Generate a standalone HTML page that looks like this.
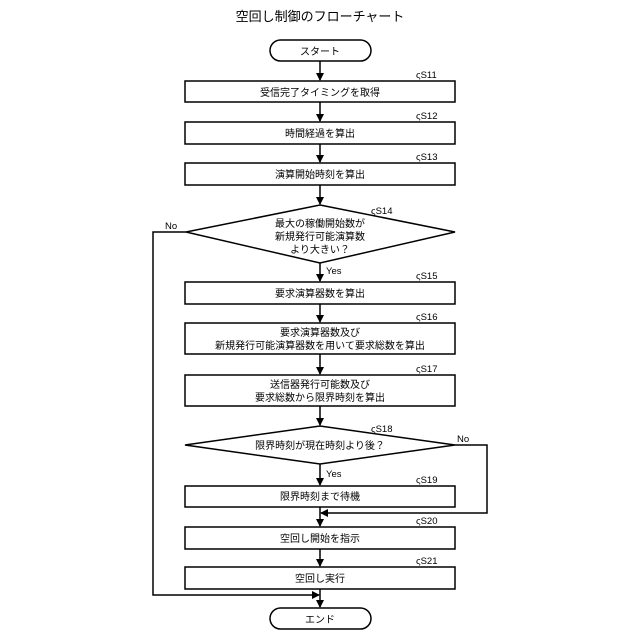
<!DOCTYPE html>
<html><head><meta charset="utf-8"><style>
html,body{margin:0;padding:0;background:#fff}
svg{display:block}
text{font-family:"Liberation Sans","Noto Sans CJK JP",sans-serif;fill:#000}
</style></head><body>
<svg width="640" height="640" viewBox="0 0 640 640" xmlns="http://www.w3.org/2000/svg">
<defs><marker id="a" markerWidth="8" markerHeight="8" refX="7" refY="4" orient="auto" markerUnits="userSpaceOnUse"><path d="M0,0 L8,4 L0,8 z" fill="#000"/></marker></defs>
<g stroke="#000" stroke-width="1.5" fill="#fff">
<rect x="270" y="40" width="101" height="21" rx="10.5"/>
<rect x="185" y="81" width="270" height="21"/>
<rect x="185" y="122" width="270" height="22"/>
<rect x="185" y="163" width="270" height="22"/>
<polygon points="320,205 455,232 320,263 186,232"/>
<rect x="185" y="282" width="270" height="22"/>
<rect x="185" y="323" width="270" height="31"/>
<rect x="185" y="375" width="270" height="31"/>
<polygon points="320,426 455,445 320,464 185,445"/>
<rect x="185" y="486" width="270" height="21"/>
<rect x="185" y="527" width="270" height="22"/>
<rect x="185" y="567" width="270" height="22"/>
<rect x="270" y="608" width="101" height="21" rx="10.5"/>
</g>
<g stroke="#000" stroke-width="1.5" fill="none" marker-end="url(#a)">
<line x1="320" y1="61" x2="320" y2="80"/>
<line x1="320" y1="102" x2="320" y2="121"/>
<line x1="320" y1="144" x2="320" y2="162"/>
<line x1="320" y1="185" x2="320" y2="204"/>
<line x1="320" y1="263" x2="320" y2="281"/>
<line x1="320" y1="304" x2="320" y2="322"/>
<line x1="320" y1="354" x2="320" y2="374"/>
<line x1="320" y1="406" x2="320" y2="425"/>
<line x1="320" y1="464" x2="320" y2="485"/>
<line x1="320" y1="507" x2="320" y2="526"/>
<line x1="320" y1="549" x2="320" y2="566"/>
<line x1="320" y1="589" x2="320" y2="607"/>
<polyline points="186,232 153,232 153,595 319,595"/>
<polyline points="455,445 487,445 487,513 321,513"/>
</g>
<g font-size="10" text-anchor="middle">
<text x="320" y="21" font-size="13">空回し制御のフローチャート</text>
<text x="320" y="55">スタート</text>
<text x="320" y="96">受信完了タイミングを取得</text>
<text x="320" y="137">時間経過を算出</text>
<text x="320" y="178">演算開始時刻を算出</text>
<text x="320" y="227">最大の稼働開始数が</text>
<text x="320" y="240">新規発行可能演算数</text>
<text x="320" y="253">より大きい？</text>
<text x="320" y="297">要求演算器数を算出</text>
<text x="320" y="336">要求演算器数及び</text>
<text x="320" y="349">新規発行可能演算器数を用いて要求総数を算出</text>
<text x="320" y="388">送信器発行可能数及び</text>
<text x="320" y="401">要求総数から限界時刻を算出</text>
<text x="320" y="449">限界時刻が現在時刻より後？</text>
<text x="320" y="500">限界時刻まで待機</text>
<text x="320" y="542">空回し開始を指示</text>
<text x="320" y="582">空回し実行</text>
<text x="320" y="623">エンド</text>
</g>
<g font-size="9.5">
<text x="165" y="229">No</text>
<text x="457" y="442">No</text>
<text x="326" y="274">Yes</text>
<text x="326" y="477">Yes</text>
<text x="416" y="78">ςS11</text>
<text x="416" y="119">ςS12</text>
<text x="416" y="160">ςS13</text>
<text x="371" y="214">ςS14</text>
<text x="416" y="279">ςS15</text>
<text x="416" y="320">ςS16</text>
<text x="416" y="372">ςS17</text>
<text x="371" y="432">ςS18</text>
<text x="416" y="483">ςS19</text>
<text x="416" y="524">ςS20</text>
<text x="416" y="564">ςS21</text>
</g>
</svg>
</body></html>
